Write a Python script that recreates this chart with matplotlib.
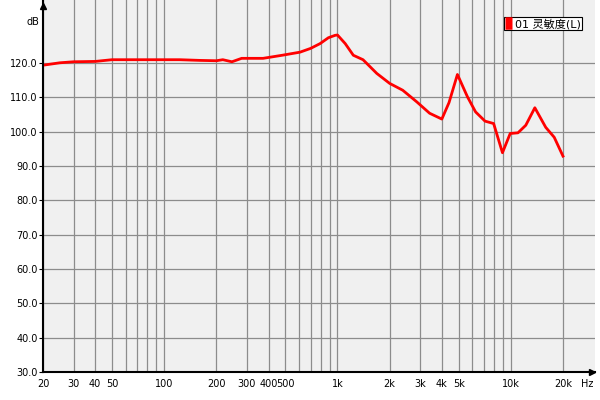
import matplotlib
matplotlib.use("Agg")
import matplotlib.pyplot as plt
from matplotlib.ticker import FixedLocator, NullFormatter

plt.rcParams['font.family'] = ['DejaVu Sans', 'Noto Sans CJK SC']

# frequency response (Hz, dB)
freq = [20, 25, 30, 40, 50, 80, 123, 161, 200, 218, 246, 280, 372, 480,
        608, 700, 794, 886, 968, 1000, 1108, 1234, 1404, 1686, 2000, 2380,
        2870, 3400, 4000, 4400, 4920, 5620, 6260, 7100, 7960, 8950, 9920,
        11000, 12200, 13760, 15900, 17800, 20000]
level = [119.4, 120.1, 120.4, 120.5, 121.0, 121.0, 121.0, 120.8, 120.7,
         121.0, 120.4, 121.4, 121.4, 122.3, 123.2, 124.3, 125.7, 127.4,
         128.1, 128.2, 125.7, 122.3, 121.0, 117.0, 114.1, 112.1, 108.7,
         105.4, 103.7, 108.5, 116.7, 110.2, 105.8, 103.1, 102.4, 93.9,
         99.5, 99.7, 101.9, 107.0, 101.3, 98.4, 92.9]
series_name = '01 灵敏度(L)'

x_major = [20, 30, 40, 50, 100, 200, 300, 400, 500, 1000, 2000, 3000,
           4000, 5000, 10000, 20000]
x_labels = ['20', '30', '40', '50', '100', '200', '300', '400', '500',
            '1k', '2k', '3k', '4k', '5k', '10k', '20k']
x_minor = [60, 70, 80, 90, 600, 700, 800, 900, 6000, 7000, 8000, 9000]
y_ticks = [30, 40, 50, 60, 70, 80, 90, 100, 110, 120]

fig = plt.figure(figsize=(6, 4), dpi=100)
ax = fig.add_axes([43 / 600, 28 / 400, 552 / 600, 372 / 400])
ax.set_facecolor('#f0f0f0')

ax.set_xscale('log')
ax.set_xlim(20, 30600)
ax.set_ylim(30, 138.4)

ax.xaxis.set_major_locator(FixedLocator(x_major))
ax.xaxis.set_minor_locator(FixedLocator(x_minor))
ax.set_xticklabels(x_labels)
ax.xaxis.set_minor_formatter(NullFormatter())
ax.set_yticks(y_ticks)
ax.set_yticklabels(['%.1f' % v for v in y_ticks])

ax.grid(True, which='both', axis='x', color='#8c8c8c', linewidth=0.9)
ax.grid(True, which='major', axis='y', color='#8c8c8c', linewidth=0.9)
ax.set_axisbelow(True)

ax.tick_params(axis='y', length=3, width=0.8, labelsize=7, pad=1)
ax.tick_params(axis='x', which='both', length=0, labelsize=7, pad=5)

for s in ('top', 'right'):
    ax.spines[s].set_visible(False)
for s in ('left', 'bottom'):
    ax.spines[s].set_linewidth(1.5)
    ax.spines[s].set_color('black')

# axis arrows
ax.plot([0], [0.985], marker='^', color='black', markersize=5,
        transform=ax.transAxes, clip_on=False)
ax.plot([0.995], [0], marker='>', color='black', markersize=5,
        transform=ax.transAxes, clip_on=False)

ax.plot(freq, level, color='#ff0000', linewidth=2, label=series_name)

fig.text(33 / 600, 1 - 22 / 400, 'dB', fontsize=7, ha='center', va='center')
fig.text(587 / 600, 1 - 384 / 400, 'Hz', fontsize=7, ha='center', va='center')

leg = ax.legend(loc='upper right',
                bbox_to_anchor=((582 - 43) / 552, 1 - 17 / 372),
                fontsize=8, frameon=True, fancybox=False, handlelength=0.6,
                handleheight=1.0, handletextpad=0.25, borderpad=0.12,
                borderaxespad=0)
leg.get_frame().set_edgecolor('black')
leg.get_frame().set_linewidth(0.8)
leg.get_frame().set_facecolor('white')
leg.get_frame().set_alpha(1)
for h in leg.legend_handles:
    h.set_linewidth(9)
    h.set_solid_capstyle('butt')

fig.savefig('out.png', dpi=100, facecolor='white')
